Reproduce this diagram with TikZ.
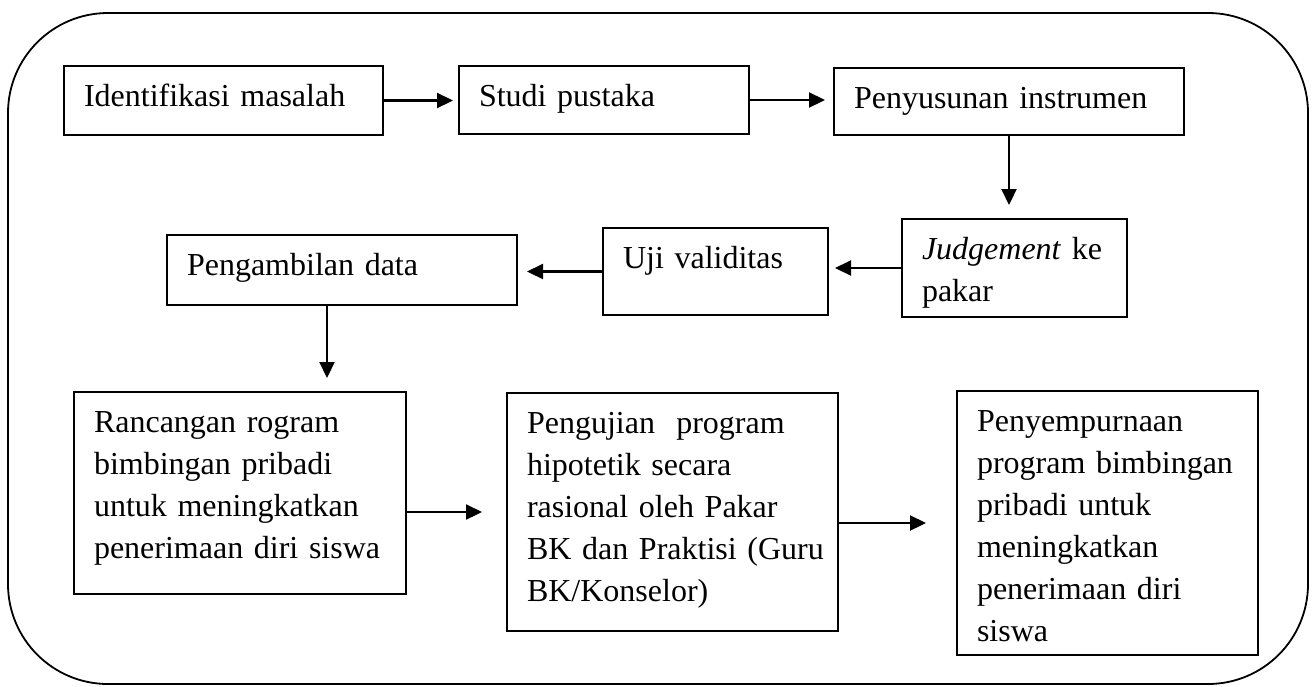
\documentclass[tikz,border=0pt]{standalone}
\usepackage{fontspec}
\setmainfont{Liberation Serif}
\usetikzlibrary{arrows.meta}
\begin{document}
\begin{tikzpicture}[x=1pt, y=-1pt,
    stage/.style={draw, line width=2pt, anchor=north west, align=left,
        inner xsep=20pt, inner ysep=0pt, text height=40pt,
        font=\fontsize{32}{42}\selectfont},
    flow/.style={-{Triangle[length=16pt,width=15pt]}, line width=2.2pt}]
    \useasboundingbox (0,0) rectangle (1313,686);
    \draw[line width=1.8pt, rounded corners=100pt] (8,13) rectangle (1308,684);

    \node[stage, text width=279pt, text depth=29pt] (identifikasi) at (63,65) {Identifikasi masalah};
    \node[stage, text width=250pt, text depth=28pt] (studi) at (458,65) {Studi pustaka};
    \node[stage, text width=310pt, text depth=27pt] (penyusunan) at (833,67) {Penyusunan instrumen};

    \node[stage, text width=185pt, text depth=58pt] (judgement) at (901,218) {\textit{Judgement} ke\\pakar};
    \node[stage, text width=185pt, text depth=47pt] (uji) at (602,227) {Uji validitas};
    \node[stage, text width=310pt, text depth=30pt] (pengambilan) at (166,234) {Pengambilan data};

    \node[stage, text width=292pt, text depth=162pt] (rancangan) at (73,391) {Rancangan rogram\\bimbingan pribadi\\untuk meningkatkan\\penerimaan diri siswa};
    \node[stage, text width=291pt, text depth=198pt] (pengujian) at (506,392) {Pengujian\ \ program\\hipotetik secara\\rasional oleh Pakar\\\mbox{BK dan Praktisi (Guru}\\BK/Konselor)};
    \node[stage, text width=261pt, text depth=224pt] (penyempurnaan) at (956,390) {Penyempurnaan\\program bimbingan\\pribadi untuk\\meningkatkan\\penerimaan diri\\siswa};

    \draw[flow, shorten >=5pt] (identifikasi.east) -- (identifikasi.east -| studi.west);
    \draw[flow, shorten >=8pt] (studi.east) -- (studi.east -| penyusunan.west);
    \draw[flow, shorten >=13pt] (penyusunan.south) -- (penyusunan.south |- judgement.north);
    \draw[flow, shorten >=6pt] (judgement.west) -- (judgement.west -| uji.east);
    \draw[flow, shorten >=9pt] (uji.west) -- (uji.west -| pengambilan.east);
    \draw[flow, shorten >=13pt] ([xshift=-15pt]pengambilan.south) -- ([xshift=-15pt]pengambilan.south |- rancangan.north);
    \draw[flow, shorten >=24pt] (pengujian.west -| rancangan.east) -- (pengujian.west);
    \draw[flow, shorten >=30pt] (penyempurnaan.west -| pengujian.east) -- (penyempurnaan.west);
\end{tikzpicture}
\end{document}
